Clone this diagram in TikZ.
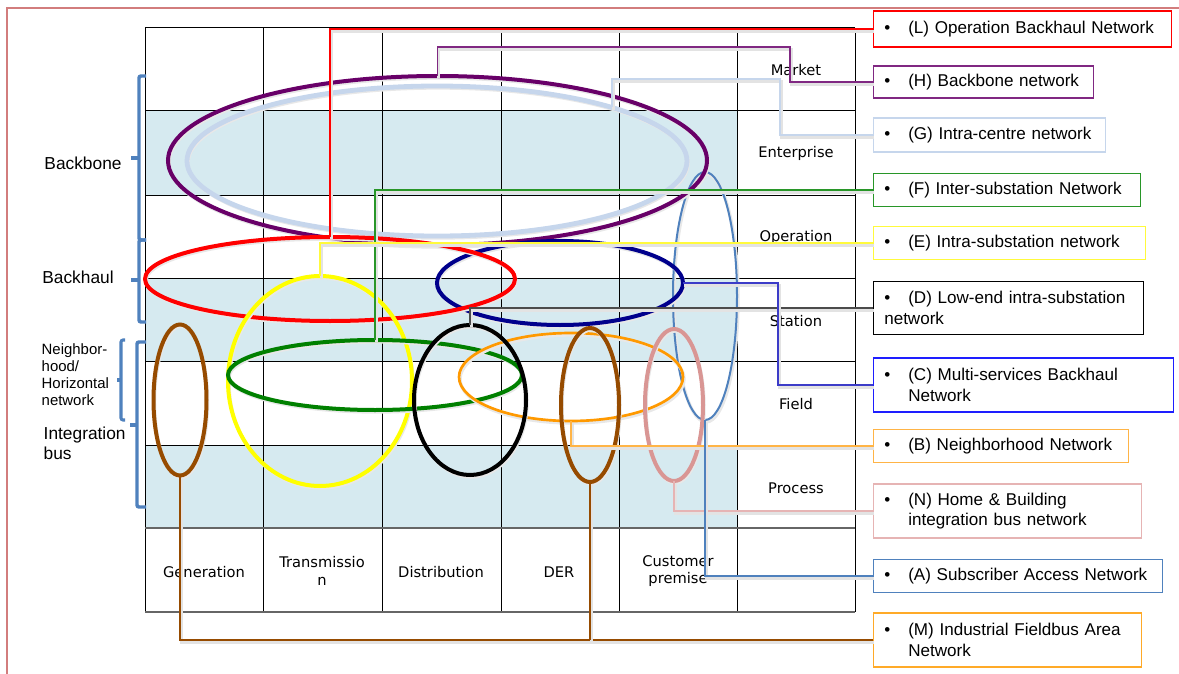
\documentclass[tikz,border=0pt]{standalone}
\usepackage{fontspec}
\setmainfont{Liberation Sans}
\newfontfamily\gridfont{DejaVu Sans}
\usepackage{xcolor}
\usetikzlibrary{shapes.geometric}

\definecolor{framepink}{RGB}{210,125,125}
\definecolor{bandblue}{RGB}{214,234,240}
\definecolor{braceblue}{RGB}{79,129,189}
\definecolor{netred}{RGB}{255,0,0}
\definecolor{netpurple}{RGB}{104,0,104}
\definecolor{boxpurple}{RGB}{128,40,130}
\definecolor{netpale}{RGB}{198,214,236}
\definecolor{netgreen}{RGB}{0,128,0}
\definecolor{boxgreen}{RGB}{40,150,40}
\definecolor{netyellow}{RGB}{255,255,0}
\definecolor{boxyellow}{RGB}{255,250,60}
\definecolor{netnavy}{RGB}{0,0,140}
\definecolor{boxblue}{RGB}{30,30,255}
\definecolor{linkblue}{RGB}{60,60,200}
\definecolor{netorange}{RGB}{255,153,0}
\definecolor{boxorange}{RGB}{255,180,70}
\definecolor{netbrown}{RGB}{150,75,0}
\definecolor{boxbrown}{RGB}{255,170,40}
\definecolor{netpink}{RGB}{217,150,148}
\definecolor{boxpink}{RGB}{230,180,180}
\definecolor{netsteel}{RGB}{79,129,189}

\newcommand{\bul}{\makebox[18pt][l]{\textbullet}}

\tikzset{
  band/.style={fill=bandblue},
  gridline/.style={draw=black,line width=0.75pt},
  gridthick/.style={draw=black!60,line width=1.8pt},
  rowlabel/.style={font=\gridfont\fontsize{11}{13}\selectfont,align=center},
  sidelabel/.style={font=\fontsize{13}{15}\selectfont,align=left},
  brace/.style={draw=braceblue,line width=2.6pt,rounded corners=1.5pt},
  oval/.style 2 args={ellipse,inner sep=0pt,outer sep=0pt,minimum width=#1,minimum height=#2,
    preaction={draw=black!9,line width=2.5pt,transform canvas={xshift=0.8pt,yshift=-1.5pt}}},
  net/.style={draw=#1,line width=3pt},
  netbox/.style={draw=#1,line width=0.9pt,fill=white,anchor=west,inner xsep=8pt,
    align=left,font=\fontsize{12.8}{15.5}\selectfont},
  link/.style={draw=#1,line width=0.9pt,
    preaction={draw=black!11,line width=2.2pt,transform canvas={xshift=0.8pt,yshift=-1.8pt}}}
}

\begin{document}
\begin{tikzpicture}[x=0.75pt,y=-0.75pt]
    \useasboundingbox (0,0) rectangle (1179,674);

    % frame
    \draw[framepink,line width=1.5pt] (7,674) -- (7,8) -- (1179,8);

    % shaded bands
    \foreach \r in {111,278,445}
        \fill[band] (145,\r) rectangle (737,\r+83.5);

    % grid
    \foreach \x in {145,263,382,501,619,737,855}
        \draw[gridline] (\x,28) -- (\x,612);
    \foreach \y in {28,111,195,278,361,445}
        \draw[gridline] (145,\y) -- (855,\y);
    \draw[gridthick] (145,528) -- (855,528);
    \draw[gridthick] (145,612) -- (855,612);

    % zones
    \node[rowlabel] (market) at (796,70) {Market};
    \node[rowlabel] (enterprise) at (796,153) {Enterprise};
    \node[rowlabel] (operation) at (796,237) {Operation};
    \node[rowlabel] (station) at (796,321) {Station};
    \node[rowlabel] (field) at (796,404) {Field};
    \node[rowlabel] (process) at (796,488) {Process};

    % domains
    \node[rowlabel] (generation) at (204,572) {Generation};
    \node[rowlabel] (transmission) at (322,571) {Transmissio\\n};
    \node[rowlabel] (distribution) at (441,572) {Distribution};
    \node[rowlabel] (der) at (559,572) {DER};
    \node[rowlabel] (customer) at (678,571) {Customer\\premise};

    % side labels and brackets
    \node[sidelabel] (backbone) at (83,163) {Backbone};
    \node[sidelabel] (backhaul) at (78,277) {Backhaul};
    \node[sidelabel,anchor=west,font=\fontsize{11.2}{12.8}\selectfont] (neighbor) at (37,375)
        {Neighbor-\\hood/\\Horizontal\\network};
    \node[sidelabel,anchor=west] (intbus) at (39,443) {Integration\\bus};
    \draw[brace] (146,76) -- (139,76) -- (139,240) -- (146,240);
    \draw[brace] (139,158) -- (131,158);
    \draw[brace] (146,240) -- (139,240) -- (139,322) -- (146,322);
    \draw[brace] (139,280) -- (131,280);
    \draw[brace] (146,342) -- (137,342) -- (137,507) -- (146,507);
    \draw[brace] (137,425) -- (130,425);
    \draw[brace,line width=2.3pt] (125,340) -- (121,340) -- (121,420) -- (125,420);
    \draw[brace,line width=2.3pt] (121,380) -- (117,380);

    % legend boxes
    \node[netbox=netred,text width=207.5pt,minimum height=27pt] (boxL) at (873,29)
        {\bul(L) Operation Backhaul Network};
    \node[netbox=boxpurple,text width=149pt,minimum height=24pt] (boxH) at (873,82)
        {\bul(H) Backbone network};
    \node[netbox=netpale,text width=158pt,minimum height=25.5pt] (boxG) at (873,135)
        {\bul(G) Intra-centre network};
    \node[netbox=boxgreen,text width=184.25pt,minimum height=25pt] (boxF) at (873,190)
        {\bul(F) Inter-substation Network};
    \node[netbox=boxyellow,text width=188pt,minimum height=25pt] (boxE) at (873,243)
        {\bul(E) Intra-substation network};
    \node[netbox=black,text width=186.5pt,minimum height=40pt] (boxD) at (873,308)
        {\bul(D) Low-end intra-substation\\network};
    \node[netbox=boxblue,text width=209pt,minimum height=40.5pt] (boxC) at (873,385)
        {\bul(C) Multi-services Backhaul\\\hspace*{18pt}Network};
    \node[netbox=boxorange,text width=175.25pt,minimum height=25pt] (boxB) at (873,446)
        {\bul(B) Neighborhood Network};
    \node[netbox=boxpink,text width=185pt,minimum height=40.5pt] (boxN) at (873,511)
        {\bul(N) Home \& Building\\\hspace*{18pt}integration bus network};
    \node[netbox=netsteel,text width=200.75pt,minimum height=25pt] (boxA) at (873,576)
        {\bul(A) Subscriber Access Network};
    \node[netbox=boxbrown,text width=185pt,minimum height=40.5pt] (boxM) at (873,640)
        {\bul(M) Industrial Fieldbus Area\\\hspace*{18pt}Network};

    % networks
    \node[oval={48pt}{186pt},net=netsteel,line width=1.5pt] (elA) at (705,296) {};
    \node[oval={375pt}{112.5pt},net=netpale,line width=3.6pt] (elG) at (437,161) {};
    \node[oval={404.25pt}{126.75pt},net=netpurple] (elH) at (437.5,160.5) {};
    \node[oval={184.5pt}{63pt},net=netnavy] (elC) at (560,283) {};
    \node[oval={277.5pt}{63pt},net=netred] (elL) at (330,279) {};
    \node[oval={138pt}{157.5pt},net=netyellow] (elE) at (320,381) {};
    \node[oval={220.5pt}{52.5pt},net=netgreen] (elF) at (375,375) {};
    \node[oval={168pt}{66pt},net=netorange,line width=2pt] (elB) at (571,377) {};
    \node[oval={84pt}{112.5pt},net=black] (elD) at (470,400) {};
    \node[oval={39.75pt}{113.25pt},net=netbrown] (elMgen) at (180,400) {};
    \node[oval={43.5pt}{115.5pt},net=netbrown] (elMder) at (590,405) {};
    \node[oval={43.5pt}{114pt},net=netpink] (elN) at (674,405) {};

    % links
    \draw[link=netred] (boxL.west) -| (elL.north);
    \draw[link=boxpurple] (boxH.west) -| (790,47) -| (elH.north);
    \draw[link=netpale] (boxG.west) -| (780,79) -| (elG.17);
    \draw[link=boxgreen] (boxF.west) -| (elF.north);
    \draw[link=boxyellow] (boxE.west) -| (elE.north);
    \draw[link=black!70] (boxD.west) -| (elD.north);
    \draw[link=linkblue] (boxC.west) -| (778,283) -- (elC.east);
    \draw[link=boxorange] (boxB.west) -| (elB.south);
    \draw[link=boxpink] (boxN.west) -| (elN.south);
    \draw[link=netsteel] (boxA.west) -| (elA.south);
    \draw[link=netbrown] (boxM.west) -| (elMgen.south);
    \draw[link=netbrown] (elMder.south) -- (elMder.south |- boxM.west);
\end{tikzpicture}
\end{document}
